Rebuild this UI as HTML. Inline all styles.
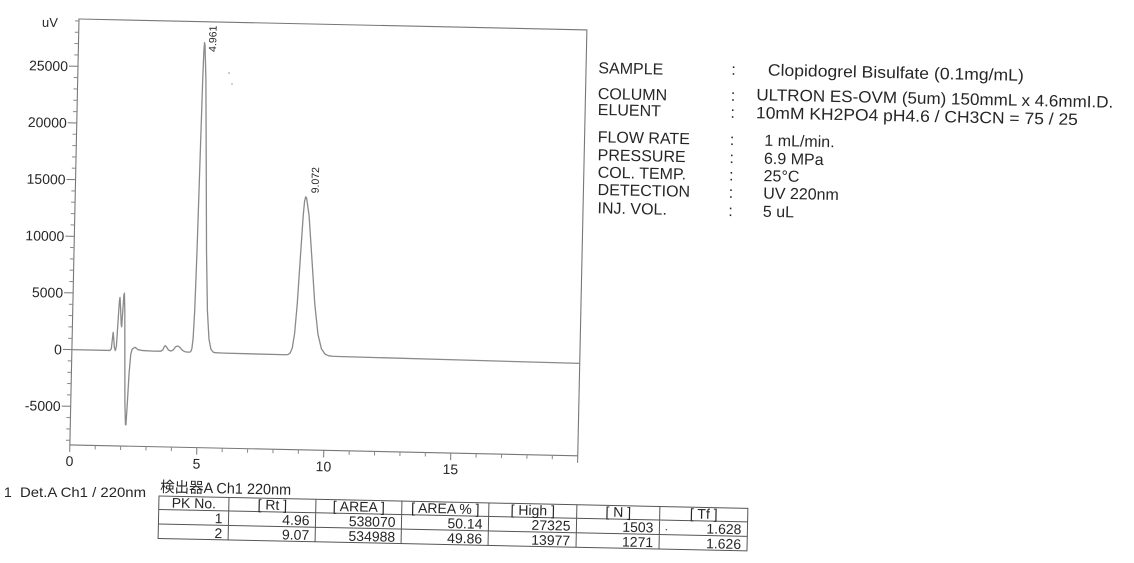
<!DOCTYPE html>
<html>
<head>
<meta charset="utf-8">
<style>
html,body{margin:0;padding:0;background:#fff;}
body{width:1134px;height:563px;overflow:hidden;}
svg{display:block;}
text{font-family:"Liberation Sans","Noto Sans CJK JP",sans-serif;fill:#262626;}
</style>
</head>
<body>
<svg width="1134" height="563" viewBox="0 0 1134 563" xmlns="http://www.w3.org/2000/svg">
<rect x="0" y="0" width="1134" height="563" fill="#fff"/>

<!-- Plot group (scan slightly rotated) -->
<g transform="rotate(1.23 79 19)">
  <rect x="79" y="19" width="508" height="426" fill="none" stroke="#777" stroke-width="1.1"/>
  <!-- y major ticks -->
  <path d="M70 66.3H79M70 123H79M70 179.7H79M70 236.4H79M70 293H79M70 349.7H79M70 406.4H79" stroke="#777" stroke-width="1"/>
  <!-- y minor ticks -->
  <path d="M75 440.4H79M75 429.1H79M75 417.7H79M75 395H79M75 383.7H79M75 372.4H79M75 361H79M75 338.4H79M75 327H79M75 315.7H79M75 304.4H79M75 281.7H79M75 270.3H79M75 259H79M75 247.7H79M75 225H79M75 213.7H79M75 202.3H79M75 191H79M75 168.3H79M75 157H79M75 145.7H79M75 134.3H79M75 111.7H79M75 100.3H79M75 89H79M75 77.6H79M75 55H79M75 43.6H79M75 32.3H79M75 21H79" stroke="#888" stroke-width="1"/>
  <!-- x ticks -->
  <path d="M79 445V452M206 445V452M333 445V452M460 445V452M587 445V452" stroke="#777" stroke-width="1"/>
  <path d="M104.4 445V449M129.8 445V449M155.2 445V449M180.6 445V449M231.4 445V449M256.8 445V449M282.2 445V449M307.6 445V449M358.4 445V449M383.8 445V449M409.2 445V449M434.6 445V449M485.4 445V449M510.8 445V449M536.2 445V449M561.6 445V449" stroke="#888" stroke-width="1"/>

  <!-- y labels -->
  <g font-size="14" text-anchor="end">
    <text x="69" y="71.3">25000</text>
    <text x="69" y="128">20000</text>
    <text x="69" y="184.7">15000</text>
    <text x="69" y="241.4">10000</text>
    <text x="69" y="298">5000</text>
    <text x="69" y="354.7">0</text>
    <text x="69" y="411.4">-5000</text>
  </g>
  <text x="50" y="27.5" font-size="13" text-anchor="middle">uV</text>

  <!-- x labels -->
  <g font-size="14" text-anchor="middle">
    <text x="79" y="466">0</text>
    <text x="206" y="466">5</text>
    <text x="333" y="466">10</text>
    <text x="460" y="466">15</text>
  </g>

  <!-- peak labels -->
  <text transform="translate(216.7,49) rotate(-90)" font-size="10.5">4.961</text>
  <text transform="translate(322.3,188.2) rotate(-90)" font-size="10.5">9.072</text>

  <!-- trace -->
  <path transform="translate(79,349.7) scale(25.4,-0.011336)" vector-effect="non-scaling-stroke" fill="none" stroke="#8a8a8a" stroke-width="1.3" stroke-linejoin="round"
  d="M0,0 L1.5,0 1.55,150 1.58,900 1.61,1600 1.64,1000 1.67,250 1.71,0 1.75,400 1.79,2500 1.83,4400 1.85,4700 1.88,3800 1.92,2300 1.94,2100 1.97,3500 2.0,4900 2.02,5080 2.05,3500 2.09,-500 2.13,-4500 2.17,-6500 2.19,-6540 2.22,-5000 2.27,-2000 2.32,-300 2.37,150 2.43,250 2.48,330 2.53,250 2.6,120 2.8,50 3.2,20 3.5,30 3.58,150 3.63,420 3.67,530 3.72,420 3.8,150 3.89,60 3.98,150 4.08,450 4.17,520 4.25,400 4.35,150 4.45,30 4.57,0 4.641,0 4.681,60 4.721,300 4.761,1200 4.801,3700 4.841,8870 4.881,16570 4.921,24110 4.941,26480 4.961,27325 4.981,27137 5.046,24110 5.131,16570 5.216,8870 5.301,3700 5.386,1200 5.471,300 5.556,60 5.641,0 5.8,-10 6.0,-20 8.432,-48 8.512,-20 8.592,105 8.672,564 8.752,1841 8.832,4488 8.912,8427 8.992,12285 9.032,13497 9.072,13927 9.112,13803 9.222,12280 9.372,8417 9.522,4468 9.672,1816 9.822,534 9.972,70 10.122,-60 10.272,-90 10.5,-100 15,-175 20,-250"/>
</g>

<!-- specks -->
<circle cx="229" cy="73" r="1" fill="#bbb"/>
<circle cx="232" cy="84" r="1" fill="#c4c4c4"/>

<!-- Conditions text block -->
<g transform="rotate(1.2 600 62)" font-size="16" style="white-space:pre">
  <text x="598.5" y="73.3">SAMPLE</text>
  <text x="598.5" y="99">COLUMN</text>
  <text x="598.8" y="115">ELUENT</text>
  <text x="599.3" y="142.3">FLOW RATE</text>
  <text x="599.6" y="160.3">PRESSURE</text>
  <text x="600" y="177.7">COL. TEMP.</text>
  <text x="600.3" y="195">DETECTION</text>
  <text x="600.6" y="213.3">INJ. VOL.</text>

  <text x="731.5" y="72">:</text>
  <text x="731.5" y="98">:</text>
  <text x="731.5" y="115">:</text>
  <text x="731.5" y="142.3">:</text>
  <text x="731.5" y="160.3">:</text>
  <text x="731.5" y="177.7">:</text>
  <text x="731.5" y="195">:</text>
  <text x="731.5" y="213.3">:</text>

  <text x="768" y="72" font-size="16.5" textLength="256" lengthAdjust="spacingAndGlyphs">Clopidogrel Bisulfate  (0.1mg/mL)</text>
  <text x="757" y="97" font-size="16.5" textLength="357" lengthAdjust="spacingAndGlyphs">ULTRON ES-OVM (5um)  150mmL x 4.6mmI.D.</text>
  <text x="757" y="115" font-size="16.5" textLength="322" lengthAdjust="spacingAndGlyphs">10mM KH2PO4  pH4.6 / CH3CN = 75 / 25</text>
  <text x="766" y="142.3">1 mL/min.</text>
  <text x="766" y="160.3">6.9 MPa</text>
  <text x="766" y="177.7">25°C</text>
  <text x="766" y="195">UV  220nm</text>
  <text x="766" y="213.3">5 uL</text>
</g>

<!-- Det line -->
<text x="4" y="497" font-size="14">1</text>
<text x="20" y="497" font-size="14" textLength="126" lengthAdjust="spacingAndGlyphs">Det.A Ch1 / 220nm</text>

<!-- Table -->
<g transform="rotate(1.2 159 496)">
  <text x="160" y="492" font-size="15" textLength="131" lengthAdjust="spacingAndGlyphs">検出器A Ch1 220nm</text>
  <rect x="159" y="496" width="589" height="42.5" fill="none" stroke="#555" stroke-width="1"/>
  <path d="M159 509.5H748M159 524H748M229 496V538.5M316 496V538.5M402 496V538.5M489 496V538.5M577 496V538.5M660 496V538.5" stroke="#555" stroke-width="1"/>
  <g font-size="14" text-anchor="middle" style="white-space:pre">
    <text x="194" y="507.3">PK No.</text>
    <text x="272.5" y="507.3">[ Rt ]</text>
    <text x="359" y="507.3">[ AREA ]</text>
    <text x="445.5" y="507.3">[ AREA % ]</text>
    <text x="533" y="507.3">[ High ]</text>
    <text x="618.5" y="507.3">[ N ]</text>
    <text x="704" y="507.3">[ Tf ]</text>
  </g>
  <g font-size="14" text-anchor="end">
    <text x="223" y="522">1</text>
    <text x="310" y="522">4.96</text>
    <text x="396" y="522">538070</text>
    <text x="483" y="522">50.14</text>
    <text x="571" y="522">27325</text>
    <text x="654" y="522">1503</text>
    <text x="742" y="522">1.628</text>
    <text x="223" y="536.8">2</text>
    <text x="310" y="536.8">9.07</text>
    <text x="396" y="536.8">534988</text>
    <text x="483" y="536.8">49.86</text>
    <text x="571" y="536.8">13977</text>
    <text x="654" y="536.8">1271</text>
    <text x="742" y="536.8">1.626</text>
  </g>
  <circle cx="667" cy="519" r="0.8" fill="#555"/>
</g>
</svg>
</body>
</html>
